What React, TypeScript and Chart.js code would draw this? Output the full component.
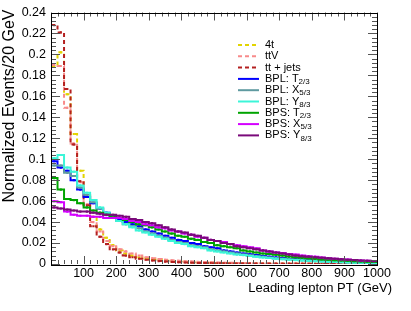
import React, { useEffect, useRef } from 'react';
import { Chart, registerables } from 'chart.js';

Chart.register(...registerables);

// ---- data (normalized events per 20 GeV bin, bins 0-20 ... 980-1000 GeV) ----
const BIN_WIDTH = 20;
const X_MIN = 0;
const X_MAX = 1000;
const Y_MIN = 0;
const Y_MAX = 0.24;

const fourTop = [
  0.189, 0.202, 0.162, 0.124, 0.089, 0.065, 0.045, 0.033, 0.025, 0.018,
  0.013, 0.010, 0.008, 0.0065, 0.0055, 0.0045, 0.0038, 0.0032, 0.0027, 0.0023,
  0.002, 0.0017, 0.0015, 0.0013, 0.0011, 0.001, 0.0009, 0.0008, 0.0007, 0.0006,
  0.00055, 0.0005, 0.00045, 0.0004, 0.00035, 0.0003, 0.00028, 0.00025, 0.00022, 0.0002,
  0.00018, 0.00016, 0.00014, 0.00012, 0.0001, 0.0001, 0.00009, 0.00008, 0.00007, 0.00006,
];
const ttV = [
  0.190, 0.189, 0.149, 0.115, 0.078, 0.057, 0.040, 0.031, 0.022, 0.017,
  0.014, 0.012, 0.010, 0.008, 0.0065, 0.0055, 0.0048, 0.004, 0.0035, 0.003,
  0.0026, 0.0023, 0.002, 0.0018, 0.0016, 0.0014, 0.0012, 0.0011, 0.001, 0.0009,
  0.0008, 0.0007, 0.00065, 0.0006, 0.00055, 0.0005, 0.00045, 0.0004, 0.00035, 0.0003,
  0.00028, 0.00025, 0.00022, 0.0002, 0.00018, 0.00016, 0.00014, 0.00012, 0.0001, 0.0001,
];
const ttJets = [
  0.228, 0.221, 0.167, 0.114, 0.079, 0.056, 0.036, 0.026, 0.019, 0.014,
  0.011, 0.008, 0.0065, 0.005, 0.004, 0.0034, 0.0028, 0.0023, 0.002, 0.0017,
  0.0014, 0.0012, 0.001, 0.0009, 0.0008, 0.0007, 0.0006, 0.0005, 0.00045, 0.0004,
  0.00035, 0.0003, 0.00028, 0.00025, 0.00022, 0.0002, 0.00018, 0.00016, 0.00014, 0.00012,
  0.0001, 0.0001, 0.00009, 0.00008, 0.00007, 0.00006, 0.00006, 0.00005, 0.00005, 0.00004,
];
const bplT23 = [
  0.098, 0.092, 0.089, 0.080, 0.071, 0.064, 0.058, 0.053, 0.049, 0.046,
  0.043, 0.040, 0.038, 0.036, 0.033, 0.031, 0.029, 0.027, 0.025, 0.023,
  0.022, 0.020, 0.019, 0.017, 0.016, 0.015, 0.013, 0.012, 0.011, 0.010,
  0.0093, 0.0085, 0.0077, 0.007, 0.0063, 0.0057, 0.0051, 0.0046, 0.0042, 0.0037,
  0.0033, 0.003, 0.0027, 0.0024, 0.0021, 0.0019, 0.0017, 0.0015, 0.0014, 0.0012,
];
const bplX53 = [
  0.094, 0.094, 0.087, 0.084, 0.073, 0.066, 0.059, 0.053, 0.048, 0.044,
  0.041, 0.038, 0.036, 0.034, 0.031, 0.029, 0.027, 0.025, 0.023, 0.021,
  0.020, 0.018, 0.017, 0.016, 0.014, 0.013, 0.012, 0.011, 0.010, 0.009,
  0.0083, 0.0075, 0.0068, 0.0061, 0.0055, 0.005, 0.0045, 0.004, 0.0036, 0.0032,
  0.0029, 0.0026, 0.0023, 0.002, 0.0018, 0.0016, 0.0014, 0.0013, 0.0012, 0.001,
];
const bplY83 = [
  0.101, 0.104, 0.092, 0.088, 0.075, 0.068, 0.061, 0.054, 0.049, 0.045,
  0.041, 0.038, 0.035, 0.032, 0.030, 0.028, 0.026, 0.024, 0.022, 0.020,
  0.019, 0.017, 0.016, 0.015, 0.013, 0.012, 0.011, 0.010, 0.009, 0.0085,
  0.0077, 0.007, 0.0063, 0.0057, 0.0051, 0.0046, 0.0041, 0.0037, 0.0033, 0.003,
  0.0027, 0.0024, 0.0021, 0.0019, 0.0017, 0.0015, 0.0013, 0.0012, 0.0011, 0.001,
];
const bpsT23 = [
  0.082, 0.071, 0.062, 0.061, 0.058, 0.054, 0.051, 0.049, 0.047, 0.045,
  0.044, 0.042, 0.040, 0.038, 0.037, 0.035, 0.033, 0.031, 0.029, 0.027,
  0.026, 0.024, 0.023, 0.021, 0.020, 0.018, 0.017, 0.016, 0.015, 0.013,
  0.012, 0.011, 0.010, 0.0095, 0.0088, 0.008, 0.0072, 0.0065, 0.006, 0.0054,
  0.0049, 0.0044, 0.004, 0.0036, 0.0033, 0.003, 0.0027, 0.0024, 0.0022, 0.002,
];
const bpsX53 = [
  0.060, 0.059, 0.050, 0.047, 0.046, 0.046, 0.045, 0.045, 0.044, 0.044,
  0.044, 0.043, 0.041, 0.040, 0.038, 0.037, 0.035, 0.034, 0.032, 0.031,
  0.029, 0.028, 0.026, 0.025, 0.023, 0.022, 0.021, 0.019, 0.018, 0.017,
  0.016, 0.015, 0.013, 0.012, 0.011, 0.0105, 0.0095, 0.009, 0.008, 0.0075,
  0.007, 0.0062, 0.0056, 0.005, 0.0046, 0.0042, 0.0038, 0.0034, 0.0031, 0.0028,
];
const bpsY83 = [
  0.054, 0.053, 0.052, 0.051, 0.050, 0.050, 0.049, 0.048, 0.047, 0.047,
  0.046, 0.045, 0.043, 0.042, 0.040, 0.039, 0.037, 0.035, 0.033, 0.031,
  0.030, 0.028, 0.027, 0.025, 0.023, 0.022, 0.020, 0.019, 0.017, 0.016,
  0.015, 0.014, 0.013, 0.012, 0.011, 0.010, 0.009, 0.008, 0.0075, 0.007,
  0.0065, 0.006, 0.0055, 0.005, 0.0045, 0.004, 0.0037, 0.0034, 0.003, 0.0028,
];

const seriesNames = ['4t', 'ttV', 'tt + jets', 'BPL: T', 'BPL: X', 'BPL: Y', 'BPS: T', 'BPS: X', 'BPS: Y'];
const seriesSubs = ['', '', '', '2/3', '5/3', '8/3', '2/3', '5/3', '8/3'];
const seriesValues = [fourTop, ttV, ttJets, bplT23, bplX53, bplY83, bpsT23, bpsX53, bpsY83];
const seriesColors = ['#e2d400', '#f88a8a', '#b42020', '#0000ff', '#5f9aa0', '#3cf5d8', '#00a400', '#d400ff', '#7a0a7a'];
const seriesDashed = [true, true, true, false, false, false, false, false, false];

const xTitle = 'Leading lepton PT (GeV)';
const yTitle = 'Normalized Events/20 GeV';

const FONT = '"Liberation Sans", Arial, Helvetica, sans-serif';

function histPoints(values: number[]) {
  const pts: { x: number; y: number }[] = [];
  pts.push({ x: X_MIN, y: values[0] });
  values.forEach((v, i) => pts.push({ x: X_MIN + BIN_WIDTH * (i + 0.5), y: v }));
  pts.push({ x: X_MIN + BIN_WIDTH * values.length, y: values[values.length - 1] });
  return pts;
}

const decorPlugin = {
  id: 'decor',
  afterDraw(chart: any) {
    const { ctx, chartArea: a, scales } = chart;
    const xs = scales.x;
    const ys = scales.y;
    ctx.save();
    // ticks
    ctx.strokeStyle = '#555';
    ctx.lineWidth = 1;
    ctx.beginPath();
    for (let i = 0; i <= (X_MAX - X_MIN) / 20; i++) {
      const v = X_MIN + i * 20;
      const px = Math.round(xs.getPixelForValue(v)) + 0.5;
      const len = i % 5 === 0 ? 8 : 4;
      ctx.moveTo(px, a.bottom);
      ctx.lineTo(px, a.bottom - len);
      ctx.moveTo(px, a.top);
      ctx.lineTo(px, a.top + len);
    }
    for (let i = 0; i <= 60; i++) {
      const v = i * 0.004;
      const py = Math.round(ys.getPixelForValue(v)) + 0.5;
      const len = i % 5 === 0 ? 9 : 5;
      ctx.moveTo(a.left, py);
      ctx.lineTo(a.left + len, py);
      ctx.moveTo(a.right, py);
      ctx.lineTo(a.right - len, py);
    }
    ctx.stroke();
    // frame
    ctx.strokeStyle = '#000';
    ctx.strokeRect(Math.round(a.left) + 0.5, Math.round(a.top) + 0.5,
      Math.round(a.right - a.left), Math.round(a.bottom - a.top));

    // axis titles
    ctx.fillStyle = '#000';
    ctx.font = `13px ${FONT}`;
    ctx.textAlign = 'right';
    ctx.textBaseline = 'middle';
    ctx.fillText(xTitle, a.right + 15, 288);
    ctx.save();
    ctx.translate(10, a.top - 3);
    ctx.rotate(-Math.PI / 2);
    ctx.font = `16px ${FONT}`;
    ctx.textAlign = 'right';
    ctx.fillText(yTitle, 0, 0);
    ctx.restore();

    // legend
    const lx = 238;
    const ly0 = 45;
    const dy = 11.3;
    seriesNames.forEach((name, i) => {
      const y = ly0 + i * dy;
      ctx.strokeStyle = seriesColors[i];
      ctx.lineWidth = 2;
      ctx.setLineDash(seriesDashed[i] ? [4, 3] : []);
      ctx.beginPath();
      ctx.moveTo(lx, y);
      ctx.lineTo(lx + 21, y);
      ctx.stroke();
      ctx.setLineDash([]);
      ctx.fillStyle = '#000';
      ctx.textAlign = 'left';
      ctx.textBaseline = 'middle';
      ctx.font = `11px ${FONT}`;
      ctx.fillText(name, lx + 27, y);
      if (seriesSubs[i]) {
        const w = ctx.measureText(name).width;
        ctx.font = `8px ${FONT}`;
        ctx.fillText(seriesSubs[i], lx + 27 + w, y + 3);
      }
    });
    ctx.restore();
  },
};

export default function App() {
  const ref = useRef<HTMLCanvasElement | null>(null);
  useEffect(() => {
    if (!ref.current) return;
    const datasets = seriesValues.map((vals, i) => {
      const n = vals.length + 2;
      return {
        label: seriesNames[i] + seriesSubs[i],
        data: histPoints(vals),
        borderColor: seriesColors[i],
        backgroundColor: seriesColors[i],
        borderWidth: 2,
        borderDash: seriesDashed[i] ? [4, 3] : [],
        stepped: 'middle' as const,
        fill: false,
        pointStyle: 'rect' as const,
        pointRadius: (c: any) => (c.dataIndex === 0 || c.dataIndex === n - 1 ? 0 : 1.5),
        pointBorderWidth: 0,
        order: 9 - i,
      };
    });
    const chart = new Chart(ref.current, {
      type: 'line',
      data: { datasets },
      plugins: [decorPlugin],
      options: {
        animation: false,
        responsive: true,
        maintainAspectRatio: false,
        layout: { padding: { top: 6, right: 34, left: 0, bottom: 0 } },
        plugins: { legend: { display: false }, tooltip: { enabled: false } },
        scales: {
          x: {
            type: 'linear',
            min: X_MIN,
            max: X_MAX,
            grid: { display: false, drawTicks: false },
            border: { display: false },
            afterFit: (s: any) => { s.height = 47; },
            ticks: {
              stepSize: 100,
              autoSkip: false,
              maxRotation: 0,
              padding: 2,
              color: '#000',
              font: { family: FONT, size: 12.5 },
              callback: (v: any) => (Number(v) === 0 ? '' : String(v)),
            },
          },
          y: {
            type: 'linear',
            min: Y_MIN,
            max: Y_MAX,
            grid: { display: false, drawTicks: false },
            border: { display: false },
            afterFit: (s: any) => { s.width = 51; },
            ticks: {
              stepSize: 0.02,
              autoSkip: false,
              padding: 5,
              color: '#000',
              font: { family: FONT, size: 12.5 },
              callback: (v: any) => String(parseFloat(Number(v).toFixed(3))),
            },
          },
        },
      },
    });
    return () => chart.destroy();
  }, []);
  return (
    <div style={{ position: 'absolute', left: 0, top: 0, width: 411, height: 311, background: '#fff' }}>
      <canvas ref={ref} />
    </div>
  );
}
